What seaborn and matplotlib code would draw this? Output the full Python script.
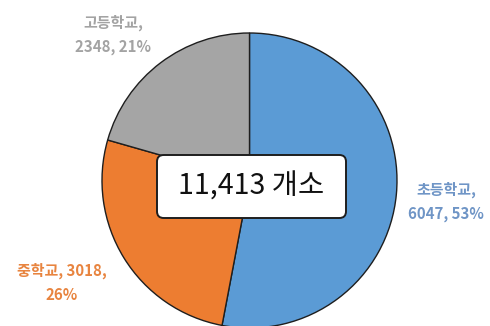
import matplotlib
matplotlib.use("Agg")
import matplotlib.pyplot as plt
from matplotlib.patches import FancyBboxPatch
import seaborn as sns

# School counts by level
categories = ["초등학교", "중학교", "고등학교"]
values = [6047, 3018, 2348]
unit = "개소"

slice_colors = ["#5B9BD5", "#ED7D31", "#A5A5A5"]
label_colors = ["#6F95C6", "#E8843F", "#A3A3A3"]

sns.set_theme(style="white")
plt.rcParams["font.family"] = ["Noto Sans CJK KR", "DejaVu Sans"]

W, H = 490, 326
fig = plt.figure(figsize=(W / 100, H / 100), dpi=100)
ax = fig.add_axes([0, 0, 1, 1])

# pie geometry in pixels
cx, cy, r = 249.5, 180.5, 147.5


def to_data(px, py):
    return (px - cx) / r, (cy - py) / r


ax.pie(values, colors=slice_colors, startangle=90, counterclock=False,
       radius=1, center=(0, 0),
       wedgeprops=dict(edgecolor="#1E1E1E", linewidth=1.0))

ax.set_xlim(-cx / r, (W - cx) / r)
ax.set_ylim(-(H - cy) / r, cy / r)
ax.set_aspect("equal")
ax.axis("off")

total = sum(values)
pcts = [round(v / total * 100) for v in values]

label_texts = [
    f"{categories[0]},\n{values[0]}, {pcts[0]}%",
    f"{categories[1]}, {values[1]},\n{pcts[1]}%",
    f"{categories[2]},\n{values[2]}, {pcts[2]}%",
]
label_pos = [(446, 201.5), (62, 283), (113, 34.5)]

for txt, (px, py), col in zip(label_texts, label_pos, label_colors):
    x, y = to_data(px, py)
    ax.text(x, y, txt, ha="center", va="center", fontsize=10.8,
            fontweight="bold", color=col, linespacing=1.6)

# total box in the middle
bx0, by0 = to_data(157, 218)
bx1, by1 = to_data(346, 155)
box = FancyBboxPatch((bx0, by0), bx1 - bx0, by1 - by0,
                     boxstyle="round,pad=0,rounding_size=0.045",
                     facecolor="white", edgecolor="#1E1E1E", linewidth=1.4,
                     zorder=5)
ax.add_patch(box)
tx, ty = to_data(251, 187)
ax.text(tx, ty, f"{total:,} {unit}", ha="center", va="center",
        fontsize=20.5, color="#111111", zorder=6)

fig.savefig("out.png", dpi=100)
